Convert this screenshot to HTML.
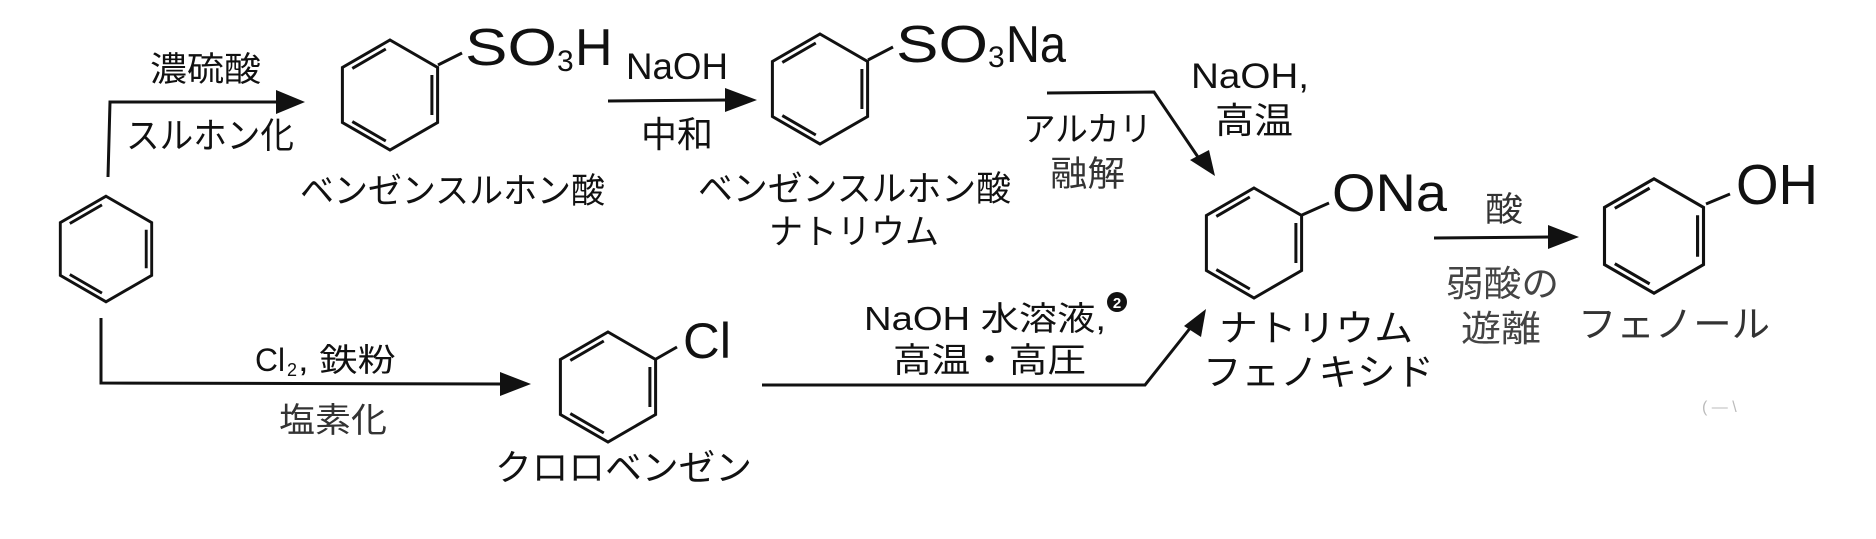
<!DOCTYPE html>
<html><head><meta charset="utf-8"><style>
html,body{margin:0;padding:0;background:#fff;}
svg{display:block;}
text{font-family:"Liberation Sans","Noto Sans CJK JP",sans-serif;fill:#111;}
</style></head><body>
<svg width="1876" height="539" viewBox="0 0 1876 539" xmlns="http://www.w3.org/2000/svg">
<defs>
<g id="bz" fill="none" stroke="#111" stroke-width="3" stroke-linejoin="miter">
<path d="M0,-55 L47.6,-27.5 L47.6,27.5 L0,55 L-47.6,27.5 L-47.6,-27.5 Z"/>
<path d="M-37.7,-26.6 L-4.2,-46 M41.9,-20 L41.9,20 M-37.7,26.6 L-4.2,46"/>
</g>
</defs>
<g fill="none" stroke="#111" stroke-width="3">
<path d="M108,177 L110,102 L280,102"/>
<path d="M101,318 L101,383 L505,384"/>
<path d="M608,101 L728,100"/>
<path d="M1047,93 L1154,92 L1200,160"/>
<path d="M762,385 L1145,385 L1195,322"/>
<path d="M1434,238 L1550,237"/>
<path d="M438,65 L462,53"/>
<path d="M868,60 L893,47"/>
<path d="M656,359 L677,347"/>
<path d="M1302,215 L1329,203"/>
<path d="M1706,204 L1730,194"/>
</g>
<g fill="#111">
<polygon points="305,102 276,90 276,114"/>
<polygon points="531,384 500,372 500,396"/>
<polygon points="757,100 725,88 725,112"/>
<polygon points="1215,176 1190,160 1209,150"/>
<polygon points="1206,309 1201,337 1184,326"/>
<polygon points="1579,237 1548,225 1548,249"/>
</g>
<use href="#bz" transform="translate(106,249) scale(0.96)"/>
<use href="#bz" transform="translate(390,95)"/>
<use href="#bz" transform="translate(820,89)"/>
<use href="#bz" transform="translate(608,387)"/>
<use href="#bz" transform="translate(1254,243)"/>
<use href="#bz" transform="translate(1654,236) scale(1.04)"/>

<text x="150" y="81" font-size="34" textLength="111" lengthAdjust="spacingAndGlyphs">濃硫酸</text>
<text x="126" y="148" font-size="36" textLength="168" lengthAdjust="spacingAndGlyphs">スルホン化</text>
<text x="465" y="65" font-size="52" textLength="92" lengthAdjust="spacingAndGlyphs">SO</text>
<text x="557" y="71" font-size="30">3</text>
<text x="575" y="65" font-size="52">H</text>
<text x="300" y="203" font-size="35" textLength="305" lengthAdjust="spacingAndGlyphs">ベンゼンスルホン酸</text>
<text x="626" y="79" font-size="37" textLength="102" lengthAdjust="spacingAndGlyphs">NaOH</text>
<text x="641" y="147" font-size="36" textLength="72" lengthAdjust="spacingAndGlyphs">中和</text>
<text x="896" y="62" font-size="52" textLength="92" lengthAdjust="spacingAndGlyphs">SO</text>
<text x="988" y="67" font-size="30">3</text>
<text x="1006" y="62" font-size="52" textLength="60" lengthAdjust="spacingAndGlyphs">Na</text>
<text x="698" y="201" font-size="35" textLength="313" lengthAdjust="spacingAndGlyphs">ベンゼンスルホン酸</text>
<text x="769" y="244" font-size="35" textLength="170" lengthAdjust="spacingAndGlyphs">ナトリウム</text>
<text x="1191" y="88" font-size="35" textLength="118" lengthAdjust="spacingAndGlyphs">NaOH,</text>
<text x="1215" y="133" font-size="36" textLength="78" lengthAdjust="spacingAndGlyphs">高温</text>
<text x="1023" y="141" font-size="34" textLength="129" lengthAdjust="spacingAndGlyphs">アルカリ</text>
<text x="1050" y="186" font-size="35" textLength="75" lengthAdjust="spacingAndGlyphs" style="fill:#333">融解</text>
<text x="255" y="371" font-size="32" textLength="30" lengthAdjust="spacingAndGlyphs">Cl</text>
<text x="287" y="376" font-size="18">2</text>
<text x="298" y="371" font-size="32" textLength="98" lengthAdjust="spacingAndGlyphs">, 鉄粉</text>
<text x="279" y="432" font-size="34" textLength="108" lengthAdjust="spacingAndGlyphs" style="fill:#333">塩素化</text>
<text x="683" y="358" font-size="50" textLength="48" lengthAdjust="spacingAndGlyphs">Cl</text>
<text x="495" y="480" font-size="36" textLength="257" lengthAdjust="spacingAndGlyphs">クロロベンゼン</text>
<text x="864" y="330" font-size="33" textLength="242" lengthAdjust="spacingAndGlyphs">NaOH 水溶液,</text>
<circle cx="1117" cy="302" r="10" fill="#111"/>
<text x="1117" y="308" font-size="15" text-anchor="middle" font-weight="bold" style="fill:#fff">2</text>
<text x="893" y="372" font-size="34" textLength="193" lengthAdjust="spacingAndGlyphs">高温・高圧</text>
<text x="1332" y="211" font-size="53" textLength="115" lengthAdjust="spacingAndGlyphs">ONa</text>
<text x="1485" y="221" font-size="34" textLength="38" lengthAdjust="spacingAndGlyphs" style="fill:#333">酸</text>
<text x="1446" y="296" font-size="36" textLength="113" lengthAdjust="spacingAndGlyphs" style="fill:#444">弱酸の</text>
<text x="1461" y="341" font-size="36" textLength="80" lengthAdjust="spacingAndGlyphs" style="fill:#444">遊離</text>
<text x="1736" y="204" font-size="57" textLength="82" lengthAdjust="spacingAndGlyphs">OH</text>
<text x="1578" y="337" font-size="37" textLength="192" lengthAdjust="spacingAndGlyphs" style="fill:#333">フェノール</text>
<text x="1219" y="341" font-size="37" textLength="194" lengthAdjust="spacingAndGlyphs">ナトリウム</text>
<text x="1203" y="385" font-size="37" textLength="231" lengthAdjust="spacingAndGlyphs">フェノキシド</text>
<text x="1702" y="412" font-size="16" style="fill:#bbb">(  —   \</text>
</svg>
</body></html>
